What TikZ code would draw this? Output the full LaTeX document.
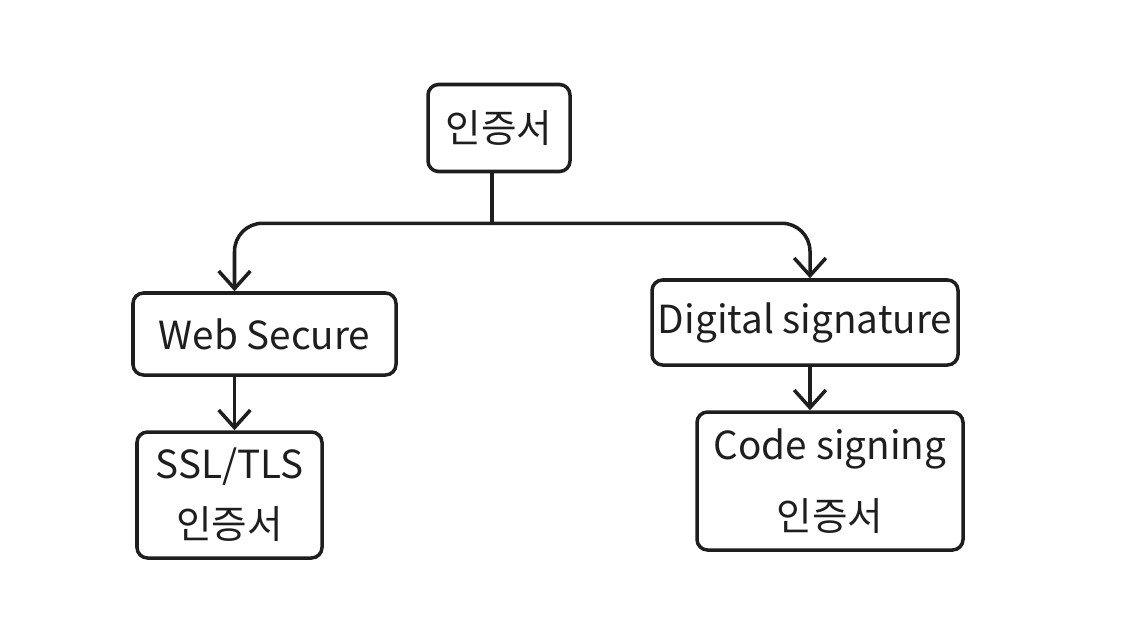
\documentclass[tikz,border=0pt]{standalone}
\usepackage{fontspec}
\setmainfont{Noto Sans CJK KR}
\usetikzlibrary{arrows.meta, positioning, calc}
\definecolor{ink}{HTML}{1E1E1E}
\tikzset{
  box/.style  = {draw=ink, line width=1pt, rounded corners=3pt,
                 align=center, font=\fontsize{11}{14}\selectfont,
                 text=ink, inner sep=1pt},
  arr/.style  = {-{Straight Barb[length=5pt,width=9pt]}, line width=1pt, ink},
  stem/.style = {line width=1pt, ink},
}

\begin{document}
\begin{tikzpicture}
  \useasboundingbox (0,0) rectangle (11.44,6.20);

  \node[box, minimum width=1.42cm, minimum height=0.87cm] (cert) at (4.99,4.92) {인증서};

  \node[box, minimum width=2.63cm, minimum height=0.82cm] (web)  at (2.645,2.86) {Web Secure};
  \node[box, minimum width=3.06cm, minimum height=0.85cm] (dsig) at (8.05,2.975) {Digital signature};

  \node[box, minimum width=1.85cm, minimum height=1.26cm] (ssl)  at (2.295,1.25) {SSL/TLS\\[3pt]인증서};
  \node[box, minimum width=2.66cm, minimum height=1.38cm] (code) at (8.30,1.39) {Code signing\\[6pt]인증서};

  % branch from the top box
  \coordinate (split) at ($(cert.south)+(-0.07,-0.5)$);
  \draw[stem] ([xshift=-0.07cm]cert.south) -- (split);
  \draw[arr, rounded corners=8pt] (split) -| ([xshift=-0.3cm]web.north);
  \draw[arr, rounded corners=8pt] (split) -| ([xshift=0.05cm]dsig.north);

  % second level
  \draw[arr] ([xshift=-0.3cm]web.south) -- ([xshift=-0.3cm]web.south |- ssl.north);
  \draw[arr] ([xshift=0.05cm]dsig.south) -- ([xshift=0.05cm]dsig.south |- code.north);

\end{tikzpicture}
\end{document}
